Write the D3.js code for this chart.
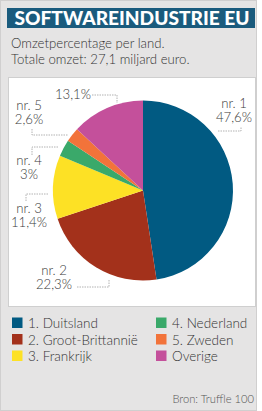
<!DOCTYPE html>
<html>
<head>
<meta charset="utf-8">
<script src="https://cdn.jsdelivr.net/npm/d3@7"></script>
<style>
  body { margin: 0; background: #fff; }
  svg text { font-family: Lato, "Open Sans", sans-serif; }
</style>
</head>
<body>
<svg id="chart" width="262" height="411"></svg>
<script>
// data
const countries = ["1. Duitsland", "2. Groot-Brittannië", "3. Frankrijk", "4. Nederland", "5. Zweden", "Overige"];
const shares = [47.6, 22.3, 11.4, 3, 2.6, 13.1];
const rankLabels = ["nr. 1", "nr. 2", "nr. 3", "nr. 4", "nr. 5", ""];
const sliceColors = ["#015a82", "#a3311b", "#fde125", "#3aa96a", "#f2733a", "#c4509b"];

const svg = d3.select("#chart");

// background + frame
svg.append("rect").attr("x", 0.5).attr("y", 0.5).attr("width", 256).attr("height", 410)
    .attr("fill", "#e5e4e4").attr("stroke", "#d0cfcf");

// title band
svg.append("rect").attr("x", 7).attr("y", 8).attr("width", 248).attr("height", 20).attr("fill", "#1a5b7d");
svg.append("text").attr("x", 132).attr("y", 25).attr("text-anchor", "middle")
    .attr("fill", "#fff").attr("font-size", 18.5).attr("font-weight", 900)
    .attr("textLength", 235).attr("lengthAdjust", "spacingAndGlyphs")
    .text("SOFTWAREINDUSTRIE EU");

svg.append("text").attr("x", 11).attr("y", 48).attr("font-size", 13.2).attr("font-weight", 300).attr("fill", "#333")
    .text("Omzetpercentage per land.");
svg.append("text").attr("x", 11).attr("y", 64).attr("font-size", 13.2).attr("font-weight", 300).attr("fill", "#333")
    .text("Totale omzet: 27,1 miljard euro.");

// white panel
svg.append("rect").attr("x", 8.5).attr("y", 77.5).attr("width", 247).attr("height", 229)
    .attr("fill", "#fff").attr("stroke", "#cfcfcf");

// pie
const cx = 143, cy = 190.5, r = 90;
const pie = d3.pie().sort(null).value(d => d);
const arcs = pie(shares);
const arc = d3.arc().innerRadius(0).outerRadius(r);

const g = svg.append("g").attr("transform", `translate(${cx},${cy})`);
g.selectAll("path").data(arcs).enter().append("path")
    .attr("d", arc)
    .attr("fill", (d, i) => sliceColors[i]);

// label layout (text anchor point and leader bracket)
const fmt = v => String(v).replace(".", ",") + "%";
const labelLayout = [
  { x: 234, y: 107.5, leader: [[218, 131], [241, 131], [241, 127]] },
  { x: 54, y: 274.5, leader: [[77, 287], [109, 287], [109, 279]] },
  { x: 29, y: 212.5, leader: [[26, 201], [26, 194], [49, 194]] },
  { x: 29, y: 164.5, leader: [[32, 155], [32, 147], [58, 147]] },
  { x: 29, y: 109.5, leader: [[32, 129], [32, 135], [68, 135]] },
  { x: 73, y: 99, leader: [[92, 95], [117, 95], [117, 103]] }
];

const lab = svg.append("g").attr("font-size", 13.2).attr("font-weight", 300).attr("fill", "#3a3a3a")
    .attr("text-anchor", "middle");
labelLayout.forEach((p, i) => {
  svg.append("path")
    .attr("d", d3.line()(p.leader))
    .attr("fill", "none").attr("stroke", "#a0a0a0").attr("stroke-width", 0.8)
    .attr("stroke-dasharray", "1.5,1");
  if (rankLabels[i]) {
    lab.append("text").attr("x", p.x).attr("y", p.y).text(rankLabels[i]);
    lab.append("text").attr("x", p.x).attr("y", p.y + 14.5).text(fmt(shares[i]));
  } else {
    lab.append("text").attr("x", p.x).attr("y", p.y).text(fmt(shares[i]));
  }
});

// legend, two columns
const leg = svg.append("g").attr("font-size", 13.5).attr("font-weight", 300).attr("fill", "#333");
countries.forEach((c, i) => {
  const col = Math.floor(i / 3), row = i % 3;
  const x = 12 + col * 144, y = 323 + row * 16.5;
  leg.append("rect").attr("x", x).attr("y", y - 5.5).attr("width", 10.5).attr("height", 10.5)
      .attr("fill", sliceColors[i]);
  leg.append("text").attr("x", x + 16).attr("y", y + 5).text(c);
});

svg.append("text").attr("x", 254).attr("y", 403).attr("text-anchor", "end")
    .attr("font-size", 11.2).attr("font-weight", 300).attr("fill", "#555")
    .text("Bron: Truffle 100");
</script>
</body>
</html>
